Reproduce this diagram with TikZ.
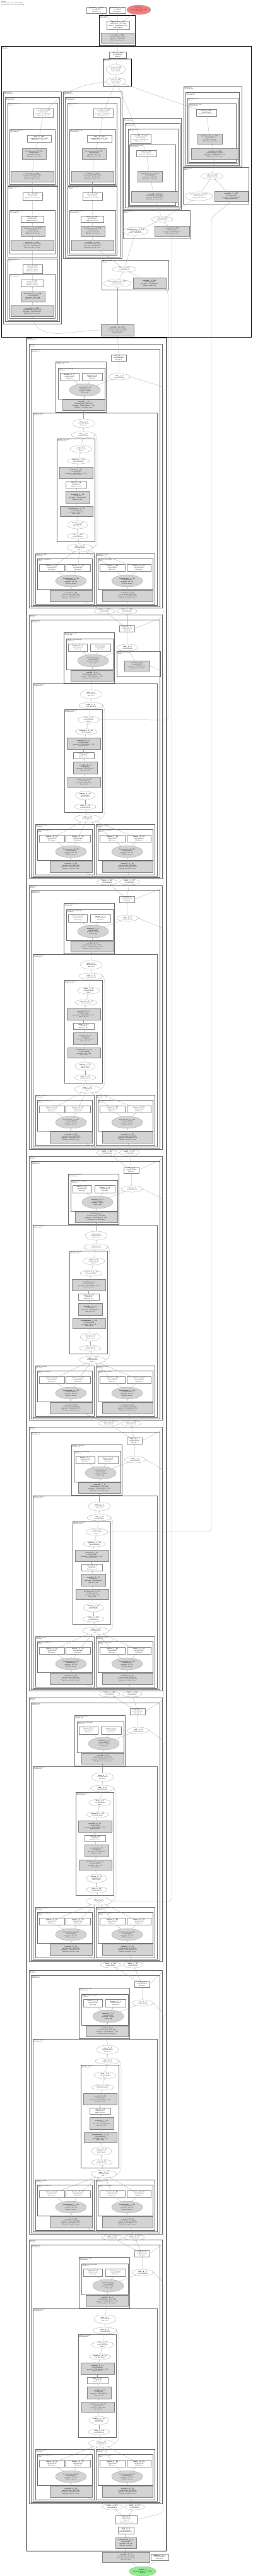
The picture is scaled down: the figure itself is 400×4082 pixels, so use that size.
\documentclass[tikz,border=0pt]{standalone}
\usepackage{fontspec}
\usetikzlibrary{shapes.geometric,arrows.meta}
\definecolor{outred}{RGB}{240,128,128}
\definecolor{ingreen}{RGB}{144,238,144}
\definecolor{parfill}{RGB}{211,211,211}
\newcommand{\nfont}{\fontsize{2.2}{2.75}\selectfont}
\newcommand{\cfont}{\fontsize{2}{2.4}\selectfont}
\newcommand{\lw}[2]{\textbf{#1}\\#2}
\newcommand{\lt}[3]{\textbf{#1}\\#2\\#3}
\newcommand{\lf}[4]{\textbf{#1}\\#2\\#3\\#4}
\tikzset{
  lbox/.style={draw=black!50, line width=0.2pt, fill=white, inner sep=0.2pt,
    align=center, font=\nfont},
  pbox/.style={lbox, fill=parfill},
  lell/.style={lbox, ellipse},
  pell/.style={lell, fill=parfill},
  clus/.style={draw=black!60, line width=0.35pt},
  hclus/.style={draw=black, line width=0.7pt},
  clab/.style={anchor=north west, align=left, inner sep=0.7pt, font=\cfont},
  lnk/.style={draw=black!40, line width=0.25pt, -{Stealth[length=1.5pt,width=1.2pt]}},
  skip/.style={lnk, rounded corners=6pt},
}
% a node: style, name, centre, width, height, text
\newcommand{\gn}[6]{\node[#1, minimum width=#4pt, minimum height=#5pt] (#2) at (#3) {#6};}
% a module box: style, top left, bottom right, two label lines
\newcommand{\gc}[5]{\draw[#1] (#2) rectangle (#3); \node[clab] at (#2) {#4\\#5};}
% one stage of the body, #1 = number, #2 = top y, #3 = shift of the top part, #4 = shift of the middle
\newcommand{\blockunit}[4]{%
  \gc{clus}{46,#2-8}{257,#2+410.5}{@body.#1}{(Stage)}
  \gc{clus}{49,#2}{253,#2+408}{@body.#1.res}{(ResBlock)}
  \gn{lbox}{u#1top}{188+#3,#2+14}{24}{10}{\lt{cat\_#1\_1}{1x128x40x40}{@body.#1}}
  \gn{lell}{u#1ea}{189+#3,#2+44}{34}{10}{\lw{add\_#1\_2}{1x128x40x40}}
  \gc{clus}{88+#3,#2+20}{168+#3,#2+100}{@body.#1.res.attn}{(Attention)}
  \gc{clus}{92+#3,#2+30}{166+#3,#2+79}{@body.#1.res.attn.qk}{(QKProj)}
  \gn{lbox}{u#1cwa}{110+#3,#2+44}{30}{12}{\lt{linear\_#1\_3}{1x64x40x40}{@attn.q}}
  \gn{lbox}{u#1cwb}{146+#3,#2+44}{32}{12}{\lt{linear\_#1\_4}{1x64x40x40}{@attn.k}}
  \gn{pell}{u#1cg}{134.5+#3,#2+65}{49}{20}{\lf{matmul\_#1\_5}{1x64x40x40}{params: 64x64}{@attn.qk}}
  \gn{pbox}{u#1cr}{132.5+#3,#2+88.5}{67}{17}{\lf{conv2d\_#1\_6}{1x128x40x40 (800 KB)}{params: 128x128x1x1, 128}{@body.#1.res.attn.proj}}
  \gc{clus}{52,#2+101}{249,#2+406}{@body.#1.res.m}{(Sequential)}
  \gn{lell}{u#1eb}{132.5+#4,#2+118}{35}{14}{\lt{silu\_#1\_7}{1x128x40x40}{@res.act}}
  \gn{lell}{u#1ec}{132+#4,#2+136}{38}{10}{\lw{add\_#1\_8}{1x128x40x40}}
  \gc{clus}{90+#4,#2+142}{150+#4,#2+305}{@body.#1.res.m.0}{(Bottleneck)}
  \gn{lell}{u#1k1}{128.5+#4,#2+158.5}{35}{11}{\lt{mul\_#1\_9}{1x128x40x40}{@m.0}}
  \gn{lell}{u#1k2}{124.5+#4,#2+177.5}{35}{9}{\lw{sigmoid\_#1\_10}{1x128x40x40}}
  \gn{pbox}{u#1k3}{120.5+#4,#2+196}{53}{18}{\lf{conv2d\_#1\_11}{1x128x40x40}{params: 128x32x1x1, 128}{@m.0.se.fc2}}
  \gn{lbox}{u#1k4}{120.5+#4,#2+215}{33}{10}{\lt{relu\_#1\_12}{1x32x1x1}{@m.0.se.act}}
  \gn{pbox}{u#1k5}{123+#4,#2+234.5}{38}{19}{\lf{conv2d\_#1\_13}{1x32x1x1}{params: 32x128x1x1}{@m.0.se.fc1}}
  \gn{pbox}{u#1k6}{121+#4,#2+257}{52}{16}{\lf{batchnorm\_#1\_14}{1x128x40x40}{params: 128, 128}{@m.0.bn2}}
  \gn{lell}{u#1k7}{123+#4,#2+278.5}{32}{13}{\lt{mean\_#1\_15}{1x128x1x1}{@m.0.pool}}
  \gn{lell}{u#1k8}{123+#4,#2+296.5}{34}{9}{\lw{silu\_#1\_16}{1x128x40x40}}
  \gn{lell}{u#1ed}{126.5+#4,#2+315}{41}{12}{\lt{add\_#1\_17}{1x128x40x40}{out 1}}
  \gc{clus}{56,#2+324}{149,#2+404}{@body.#1.res.b1}{(Branch)}
  \gc{clus}{59,#2+332}{146,#2+381}{@body.#1.res.b1.m}{(Mix)}
  \gn{lbox}{u#1la}{82,#2+346.5}{40}{11}{\lt{linear\_#1\_18}{1x64x40x40}{@b1.m.a}}
  \gn{lbox}{u#1lb}{123.5,#2+346.5}{39}{11}{\lt{linear\_#1\_19}{1x64x40x40}{@b1.m.b}}
  \gn{pell}{u#1lg}{112.5,#2+367.5}{49}{19}{\lf{layernorm\_#1\_20}{1x64x40x40}{params: 64, 64}{@b1.m.norm}}
  \gn{pbox}{u#1lr}{112.5,#2+391}{67}{18}{\lf{conv2d\_#1\_21}{1x64x40x40 (400 KB)}{params: 64x64x3x3, 64}{@body.#1.res.b1.conv}}
  \gc{clus}{152,#2+324}{245,#2+404}{@body.#1.res.b2}{(Branch)}
  \gc{clus}{155,#2+332}{242,#2+381}{@body.#1.res.b2.m}{(Mix)}
  \gn{lbox}{u#1ra}{178,#2+346.5}{40}{11}{\lt{linear\_#1\_22}{1x64x40x40}{@b2.m.a}}
  \gn{lbox}{u#1rb}{220,#2+346.5}{38}{11}{\lt{linear\_#1\_23}{1x64x40x40}{@b2.m.b}}
  \gn{pell}{u#1rg}{201.5,#2+367.5}{49}{19}{\lf{layernorm\_#1\_24}{1x64x40x40}{params: 64, 64}{@b2.m.norm}}
  \gn{pbox}{u#1rr}{202,#2+391}{80}{18}{\lf{conv2d\_#1\_25}{1x64x40x40 (400 KB)}{params: 64x64x3x3, 64}{@body.#1.res.b2.conv}}
  \gn{lell}{u#1sa}{165.5+#3/3,#2+415.5}{33}{9}{\lw{split\_#1\_26}{1x64x40x40}}
  \gn{lell}{u#1sb}{201+#3/3,#2+415.5}{32}{9}{\lw{split\_#1\_27}{1x64x40x40}}
  \coordinate (u#1wa) at (259,#2+60);
  \coordinate (u#1wb) at (259,#2+425);
  \draw[lnk] (u#1ea) -- (u#1top);
  \draw[lnk] (u#1cg) -- (u#1ea);
  \draw[lnk] (u#1cg) -- (u#1cwa);
  \draw[lnk] (u#1cg) -- (u#1cwb);
  \draw[lnk] (u#1cr) -- (u#1cg);
  \draw[lnk] (u#1eb) -- (u#1cr);
  \draw[lnk] (u#1ec) -- (u#1eb);
  \draw[lnk] (u#1k1) -- (u#1ec);
  \draw[lnk] (u#1k2) -- (u#1k1);
  \draw[lnk] (u#1k3) -- (u#1k2);
  \draw[lnk] (u#1k4) -- (u#1k3);
  \draw[lnk] (u#1k5) -- (u#1k4);
  \draw[lnk] (u#1k6) -- (u#1k5);
  \draw[lnk] (u#1k7) -- (u#1k6);
  \draw[lnk] (u#1k8) -- (u#1k7);
  \draw[lnk] (u#1ed) -- (u#1k8);
  \draw[skip] (u#1ed.east) -- (154+#4,#2+311) -- (154+#4,#2+140) -- (u#1ec.east);
  \draw[lnk] (u#1la) -- (u#1ed);
  \draw[lnk] (u#1lb) -- (u#1ed);
  \draw[lnk] (u#1ra) -- (u#1ed);
  \draw[lnk] (u#1rb) -- (u#1ed);
  \draw[lnk] (u#1lg) -- (u#1la);
  \draw[lnk] (u#1lg) -- (u#1lb);
  \draw[lnk] (u#1rg) -- (u#1ra);
  \draw[lnk] (u#1rg) -- (u#1rb);
  \draw[lnk] (u#1lr) -- (u#1lg);
  \draw[lnk] (u#1rr) -- (u#1rg);
  \draw[lnk] (u#1sa) -- (u#1lr);
  \draw[lnk] (u#1sb) -- (u#1rr);
}
\begin{document}
\begin{tikzpicture}[x=1pt,y=-1pt]
\path[use as bounding box, fill=white] (0,0) rectangle (400,4082);
\node[clab] (cap) at (1,1) {Model\\372 tensors total (108.4 MB)\\2104346 params total (8.2 MB)};
% output end
\gn{lbox}{oa}{152.5,16}{31}{10}{\lt{getitem\_1\_372}{1x84x8400}{@output.0}}
\gn{lbox}{ob}{186,16}{26}{10}{\lt{getitem\_2\_373}{1x8400x4}{@output.1}}
\gn{lell, fill=outred}{out}{220,15.5}{36}{15}{\lt{output\_1}{1x84x8400 (2.7 MB)}{@output}}
\gc{hclus}{157,24}{214,72}{@head.post}{(Decode)}
\gn{lbox}{pa}{187,39.5}{36}{13}{\lf{sigmoid\_1\_371}{1x84x8400 (2.7 MB)}{dim=1, keepdim=False}{@head.post}}
\gn{pbox}{pb}{186,60}{52}{16}{\lf{conv2d\_1\_370}{1x4x8400 (131 KB)}{params: 1x16x1x1}{@head.post.proj}}
\draw[lnk] (pa) -- (oa);
\draw[lnk] (pa) -- (ob);
\draw[lnk] (pa) -- (out);
\draw[lnk] (pb) -- (pa);
% detection head
\gc{hclus}{2,73}{398,534}{@head}{(Detect)}
\gn{lbox}{ha}{186.5,87}{27}{10}{\lt{cat\_1\_369}{1x144x8400}{@head}}
\gc{hclus}{163,93}{208,136}{@head.flat}{(Flatten)}
\gn{lell}{hb}{183.5,110}{31}{16}{\lt{view\_3\_368}{1x144x1600}{@head.flat}}
\gn{lell}{hc}{184,129}{32}{12}{\lt{cat\_2\_367}{1x144x40x40}{@head.flat}}
\draw[lnk] (hc) -- (hb);
\draw[lnk] (hb) -- (ha);
\draw[lnk] (ha) -- (pb);
% first branch, three convs
\gc{clus}{5,145}{97,513}{@head.cv2}{(ModuleList)}
\gc{clus}{8,154}{94,509}{@head.cv2.0}{(Sequential)}
\gc{clus}{12,163}{91,293}{@head.cv2.0.2}{(Conv)}
\gn{lbox}{p1a}{68.5,179}{31}{14}{\lf{conv2d\_3\_366}{1x64x40x40}{params: 64x64x1x1}{@head.cv2.0.2}}
\gc{clus}{15,205}{87,292}{@head.cv2.0.2.m}{(Sequential)}
\gn{lbox}{p1b}{62,219.5}{38}{11}{\lt{silu\_3\_365}{1x64x40x40 (400 KB)}{@head.cv2.0.1.act}}
\gn{pbox}{p1c}{54,243.5}{38}{17}{\lf{batchnorm\_3\_364}{1x64x40x40}{params: 64, 64}{@head.cv2.0.1.bn}}
\gn{pbox}{p1d}{51,279.5}{68}{17}{\lf{conv2d\_3\_363}{1x64x40x40 (400 KB)}{params: 64x64x3x3}{@head.cv2.0.1.conv}}
\gc{clus}{12,295}{91,407}{@head.cv2.0.1}{(Conv)}
\gn{lbox}{p1e}{51.5,311}{31}{12}{\lt{silu\_3\_362}{1x64x40x40}{@head.cv2.0.0.act}}
\gc{clus}{15,333}{87,402}{@head.cv2.0.1.m}{(Sequential)}
\gn{lbox}{p1f}{51,347}{36}{10}{\lt{mul\_3\_361}{1x64x40x40}{@head.cv2.0.0}}
\gn{pbox}{p1g}{52,366}{38}{16}{\lf{batchnorm\_3\_360}{1x64x40x40}{params: 64, 64}{@head.cv2.0.0.bn}}
\gn{pbox}{p1h}{51,388.5}{68}{17}{\lf{conv2d\_3\_359}{1x64x40x40 (400 KB)}{params: 64x128x3x3}{@head.cv2.0.0.conv}}
\gc{clus}{12,410}{91,507}{@head.cv2.0.0}{(Conv)}
\gn{lbox}{p1i}{51.5,426}{31}{14}{\lf{silu\_3\_358}{1x128x40x40}{inplace=True}{@head.cv2.0.in}}
\gc{clus}{15,434}{87,504}{@head.cv2.0.0.m}{(Sequential)}
\gn{lbox}{p1j}{51,448.5}{36}{11}{\lt{mul\_3\_357}{1x128x40x40}{@head.cv2.0.in}}
\gn{pbox}{p1k}{52,470}{38}{16}{\lf{batchnorm\_3\_356}{1x128x40x40}{params: 128, 128}{@head.cv2.0.in.bn}}
\gn{pbox}{p1l}{51,492.5}{68}{17}{\lf{conv2d\_3\_355}{1x128x40x40 (800 KB)}{params: 128x128x3x3}{@head.cv2.0.in.conv}}
\foreach \a/\b in {p1l/p1k,p1k/p1j,p1j/p1i,p1i/p1h,p1h/p1g,p1g/p1f,p1f/p1e,p1e/p1d,p1d/p1c,p1c/p1b,p1b/p1a}
  \draw[lnk] (\a) -- (\b);
\draw[lnk] (p1a) to[bend left=20] (hc);
% second branch, two convs
\gc{clus}{100,145}{193,409}{@head.cv3}{(ModuleList)}
\gc{clus}{103,154}{190,407}{@head.cv3.0}{(Sequential)}
\gc{clus}{107,163}{185,293}{@head.cv3.0.1}{(Conv)}
\gn{lbox}{p2a}{163.5,179}{31}{14}{\lf{conv2d\_4\_354}{1x80x40x40}{params: 80x80x1x1}{@head.cv3.0.2}}
\gc{clus}{110,205}{183,292}{@head.cv3.0.1.m}{(Sequential)}
\gn{lbox}{p2b}{157.5,219.5}{39}{11}{\lt{silu\_4\_353}{1x80x40x40 (500 KB)}{@head.cv3.0.1.act}}
\gn{pbox}{p2c}{149,243.5}{38}{17}{\lf{batchnorm\_4\_352}{1x80x40x40}{params: 80, 80}{@head.cv3.0.1.bn}}
\gn{pbox}{p2d}{146.5,279.5}{67}{17}{\lf{conv2d\_4\_351}{1x80x40x40 (500 KB)}{params: 80x80x3x3}{@head.cv3.0.1.conv}}
\gc{clus}{107,295}{185,404}{@head.cv3.0.0}{(Conv)}
\gn{lbox}{p2e}{146.5,311}{31}{12}{\lt{silu\_4\_350}{1x80x40x40}{@head.cv3.0.0.act}}
\gc{clus}{110,333}{183,402}{@head.cv3.0.0.m}{(Sequential)}
\gn{lbox}{p2f}{146,347}{36}{10}{\lt{mul\_4\_349}{1x80x40x40}{@head.cv3.0.0}}
\gn{pbox}{p2g}{147,366}{38}{16}{\lf{batchnorm\_4\_348}{1x80x40x40}{params: 80, 80}{@head.cv3.0.0.bn}}
\gn{pbox}{p2h}{146.5,388.5}{67}{17}{\lf{conv2d\_4\_347}{1x80x40x40 (500 KB)}{params: 80x128x3x3}{@head.cv3.0.0.conv}}
\foreach \a/\b in {p2h/p2g,p2g/p2f,p2f/p2e,p2e/p2d,p2d/p2c,p2c/p2b,p2b/p2a}
  \draw[lnk] (\a) -- (\b);
\draw[lnk] (p2a) -- (hc);
% third branch
\gc{clus}{195,187}{287,331}{@head.cv4}{(ModuleList)}
\gc{clus}{198,195}{285,329}{@head.cv4.0}{(Sequential)}
\gc{clus}{203,204}{282,327}{@head.cv4.0.0}{(Conv)}
\gn{lbox}{p3a}{223,220}{32}{14}{\lf{conv2d\_5\_346}{1x64x20x20}{params: 64x64x1x1}{@head.cv4.0.1}}
\gc{clus}{205,229}{278,325}{@head.cv4.0.0.m}{(Sequential)}
\gn{lbox}{p3b}{232,243}{32}{10}{\lt{silu\_5\_345}{1x64x20x20}{@head.cv4.0.0.act}}
\gn{pbox}{p3c}{237.5,279.5}{39}{17}{\lf{batchnorm\_5\_344}{1x64x20x20}{params: 64, 64}{@head.cv4.0.0.bn}}
\gn{pbox}{p3d}{245,311.5}{74}{17}{\lf{conv2d\_5\_343}{1x64x20x20 (100 KB)}{params: 64x256x3x3}{@head.cv4.0.0.conv}}
\foreach \a/\b in {p3d/p3c,p3c/p3b,p3b/p3a}
  \draw[lnk] (\a) -- (\b);
\draw[lnk] (p3a) -- (hc);
% fourth branch
\gc{clus}{291,137}{383,264}{@head.cv5}{(ModuleList)}
\gc{clus}{294,146}{379,262}{@head.cv5.0}{(Sequential)}
\gc{clus}{297,155}{377,259}{@head.cv5.0.0}{(Conv)}
\gc{clus}{299,164}{374,257}{@head.cv5.0.0.m}{(Sequential)}
\gn{lbox}{p4a}{327,178.5}{32}{11}{\lt{silu\_6\_342}{1x64x10x10}{@head.cv5.0.0.act}}
\gn{pbox}{p4b}{332.5,220}{39}{16}{\lf{batchnorm\_6\_341}{1x64x10x10}{params: 64, 64}{@head.cv5.0.0.bn}}
\gn{pbox}{p4c}{340.5,243.5}{75}{17}{\lf{conv2d\_6\_340}{1x64x10x10 (25 KB)}{params: 64x256x3x3, 64}{@head.cv5.0.0.conv}}
\draw[lnk] (p4c) -- (p4b);
\draw[lnk] (p4b) -- (p4a);
\draw[lnk] (p4a) -- (hc);
% fuse boxes feeding the branches
\gc{clus}{290,265}{394,323}{@head.fuse2}{(Fuse)}
\gn{lell}{q1}{336,279}{36}{10}{\lw{add\_7\_339}{1x256x10x10}}
\gn{lell}{q2}{315,311}{44}{14}{\lt{interpolate\_7\_338}{1x256x10x10}{scale\_factor=0.5}}
\gn{pbox}{q3}{366.5,311}{53}{16}{\lf{conv2d\_7\_337}{1x256x10x10}{params: 256x128x1x1}{@head.fuse2.lat}}
\draw[lnk] (q2) -- (q1);
\draw[lnk] (q3) -- (q1);
\draw[lnk] (q1) -- (p4c);
\gc{clus}{195,333}{301,378}{@head.fuse1}{(Fuse)}
\gn{lell}{r1}{257,347.5}{34}{9}{\lw{add\_8\_336}{1x256x20x20}}
\gn{lell}{r2}{215,366.5}{34}{13}{\lt{interpolate\_8\_335}{1x256x20x20}{scale\_factor=0.5}}
\gn{pbox}{r3}{272.5,366}{55}{16}{\lf{conv2d\_8\_334}{1x256x20x20}{params: 256x128x1x1}{@head.fuse1.lat}}
\draw[lnk] (r2) -- (r1);
\draw[lnk] (r3) -- (r1);
\draw[lnk] (r1) -- (q2);
\draw[lnk] (r1) -- (p3d);
\gc{clus}{161,412}{267,459}{@head.fuse0}{(Fuse)}
\gn{lell}{d1}{197,426.5}{38}{9}{\lw{add\_9\_333}{1x128x40x40}}
\gn{lell}{d2}{186,449}{44}{12}{\lt{interpolate\_9\_332}{1x128x40x40}{scale\_factor=0.5}}
\gn{pbox}{d3}{237,448.5}{52}{17}{\lf{conv2d\_9\_331}{1x128x40x40}{params: 128x64x1x1}{@head.fuse0.lat}}
\draw[lnk] (d2) -- (d1);
\draw[lnk] (d3) -- (d1);
\draw[lnk] (d1) -- (r2);
\draw[lnk] (d1) -- (p2h);
\gn{pbox}{bb}{186,523}{52}{18}{\lf{conv2d\_10\_330}{1x128x80x80 (3.2 MB)}{params: 128x128x1x1}{@head.stem}}
\draw[lnk] (bb) -- (d2);
\draw[lnk] (bb.west) to[out=180,in=-80] (p1l.south);
% body
\gc{hclus}{42,535}{263,4042}{@body}{(Sequential)}
\foreach \i/\ty/\sa/\sb in {1/553/0/0,2/982/13/12,3/1411/13/12,4/1840/20/20,5/2269/25/25,6/2698/30/30,7/3130/37/38,8/3557/37/34}
  {\blockunit{\i}{\ty}{\sa}{\sb}}
% downsampling conv on the shortcut of stage 2
\gc{clus}{185,1032}{254,1072}{@body.2.res.down}{(Conv)}
\gn{pbox}{u2dn}{217,1055}{40}{16}{\lf{conv2d\_2\_28}{1x128x40x40}{params: 128x64x1x1}{@body.2.res.down}}
\draw[lnk] (u2dn) -- (u2ea);
\draw[lnk] (u1top) -- (bb);
\foreach \uu [evaluate=\uu as \vv using int(\uu+1)] in {1,...,7}
{
  \draw[lnk] (u\vv top) -- (u\uu sa);
  \draw[lnk] (u\vv top) -- (u\uu sb);
  \ifnum\uu=2
    \draw[skip] (u\vv top.east) -- (u\uu wb) -- (259,1064) -- (u2dn.east);
  \else
    \draw[skip] (u\vv top.east) -- (u\uu wb) -- (u\uu wa) -- (u\uu ea.east);
  \fi
}
% long links up to the head
\draw[skip] (u2k1.east) -- (267,1141) -- (267,466) -- (d3.south east);
\draw[skip] (u6ed.east) -- (272,3013) -- (272,380) -- (r3.south);
\draw[skip] (u5k1.east) -- (335,2427) -- (335,345) -- (q3.south);
% stem at the bottom
\gn{lbox}{ca}{200,3992.5}{34}{13}{\lf{cat\_0\_5}{1x64x80x80}{dim=1}{@body.stem.cat}}
\gn{lbox}{cb}{199.5,4009.5}{25}{11}{\lt{silu\_0\_4}{1x64x80x80}{@body.stem.act}}
\gn{pbox}{cc}{199.5,4029.5}{33}{17}{\lf{batchnorm\_0\_3}{1x64x80x80}{params: 64, 64}{@body.stem.bn}}
\gn{pbox}{xa}{199.5,4052}{75}{16}{\lf{conv2d\_0\_2}{1x64x80x80 (1.6 MB)}{params: 64x3x6x6, 64}{@stem.conv}}
\gn{lbox}{xb}{253,4052}{28}{10}{\lt{identity\_0\_1}{1x3x640x640}{@stem.id}}
\gn{lell, fill=ingreen}{inp}{226,4074.5}{38}{15}{\lt{input\_1}{1x3x640x640 (4.7 MB)}{@input}}
\draw[lnk] (inp) -- (xa);
\draw[lnk] (inp) -- (xb);
\draw[lnk] (xa) -- (cc);
\draw[lnk] (cc) -- (cb);
\draw[lnk] (cb) -- (ca);
\draw[lnk] (ca) -- (u8sa);
\draw[lnk] (ca) -- (u8sb);
\draw[skip] (ca.east) -- (u8wb) -- (u8wa) -- (u8ea.east);
\end{tikzpicture}
\end{document}
